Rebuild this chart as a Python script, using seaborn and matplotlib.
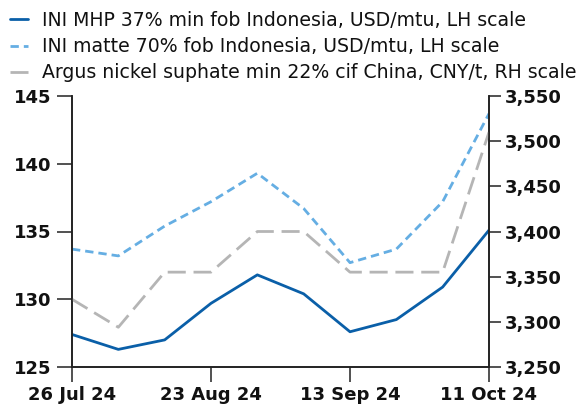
import matplotlib
matplotlib.use("Agg")
import matplotlib.pyplot as plt
import seaborn as sns
import pandas as pd

dates = ["26 Jul 24", "2 Aug 24", "9 Aug 24", "23 Aug 24", "30 Aug 24", "6 Sep 24",
         "13 Sep 24", "20 Sep 24", "4 Oct 24", "11 Oct 24"]
mhp = [127.4, 126.3, 127.0, 129.7, 131.8, 130.4, 127.6, 128.5, 130.9, 135.1]
matte = [133.7, 133.2, 135.4, 137.2, 139.3, 136.7, 132.7, 133.7, 137.2, 143.7]
sulphate = [3325, 3294, 3355, 3355, 3400, 3400, 3355, 3355, 3355, 3510]
tick_idx = [0, 3, 6, 9]
left_ticks = [125, 130, 135, 140, 145]
right_ticks = [3250, 3300, 3350, 3400, 3450, 3500, 3550]

labels = ["INI MHP 37% min fob Indonesia, USD/mtu, LH scale",
          "INI matte 70% fob Indonesia, USD/mtu, LH scale",
          "Argus nickel suphate min 22% cif China, CNY/t, RH scale"]

sns.set_theme(style="white")
FONT = ["DejaVu Sans"]
plt.rcParams["font.family"] = FONT

df = pd.DataFrame({"i": range(len(dates)), "mhp": mhp, "matte": matte, "sulphate": sulphate})

W, H = 581, 407
fig = plt.figure(figsize=(W / 100, H / 100), dpi=100)
ax = fig.add_axes([72 / W, 1 - 367 / H, (489 - 72) / W, (367 - 96) / H])
ax2 = ax.twinx()

c_mhp = "#0a5fa8"
c_matte = "#65aee3"
c_sul = "#b5b5b5"

sns.lineplot(data=df, x="i", y="mhp", ax=ax, color=c_mhp, lw=2.0, label=labels[0], legend=False)
sns.lineplot(data=df, x="i", y="matte", ax=ax, color=c_matte, lw=2.0, label=labels[1], legend=False,
             linestyle=(0, (3.0, 1.8)))
sns.lineplot(data=df, x="i", y="sulphate", ax=ax2, color=c_sul, lw=2.0, label=labels[2], legend=False,
             linestyle=(0, (6.5, 2.8)))

ax.set_xlim(0, 9)
ax.set_ylim(125, 145)
ax2.set_ylim(3250, 3550)
tk = dict(fontweight="bold", color="#111111", fontsize=13)
ax.set_xticks(tick_idx, labels=[dates[i] for i in tick_idx], **tk)
ax.set_yticks(left_ticks, labels=[str(v) for v in left_ticks], **tk)
ax2.set_yticks(right_ticks, labels=[f"{v:,}" for v in right_ticks], **tk)
ax.set_xlabel("")
ax.set_ylabel("")
ax2.set_ylabel("")

for a in (ax, ax2):
    for s in a.spines.values():
        s.set_color("#222222")
        s.set_linewidth(1.2)
    a.spines["top"].set_visible(False)
    a.grid(False)

ax.tick_params(axis="both", which="major", length=10.5, width=1.1, color="#222222",
               pad=3, direction="out", left=True, bottom=True)
ax.tick_params(axis="y", pad=4)
ax2.tick_params(axis="y", length=8.5, width=1.1, color="#222222", pad=3,
                direction="out", right=True)

handles = ax.get_lines()[:2] + ax2.get_lines()[:1]
fig.legend(handles, labels, loc="upper left", bbox_to_anchor=(10 / W, 1 - 11 / H), frameon=False,
           fontsize=13.6, handlelength=0.95, handletextpad=0.75, labelspacing=0.38,
           borderpad=0, borderaxespad=0, labelcolor="#111111")

fig.savefig("out.png", dpi=100)
